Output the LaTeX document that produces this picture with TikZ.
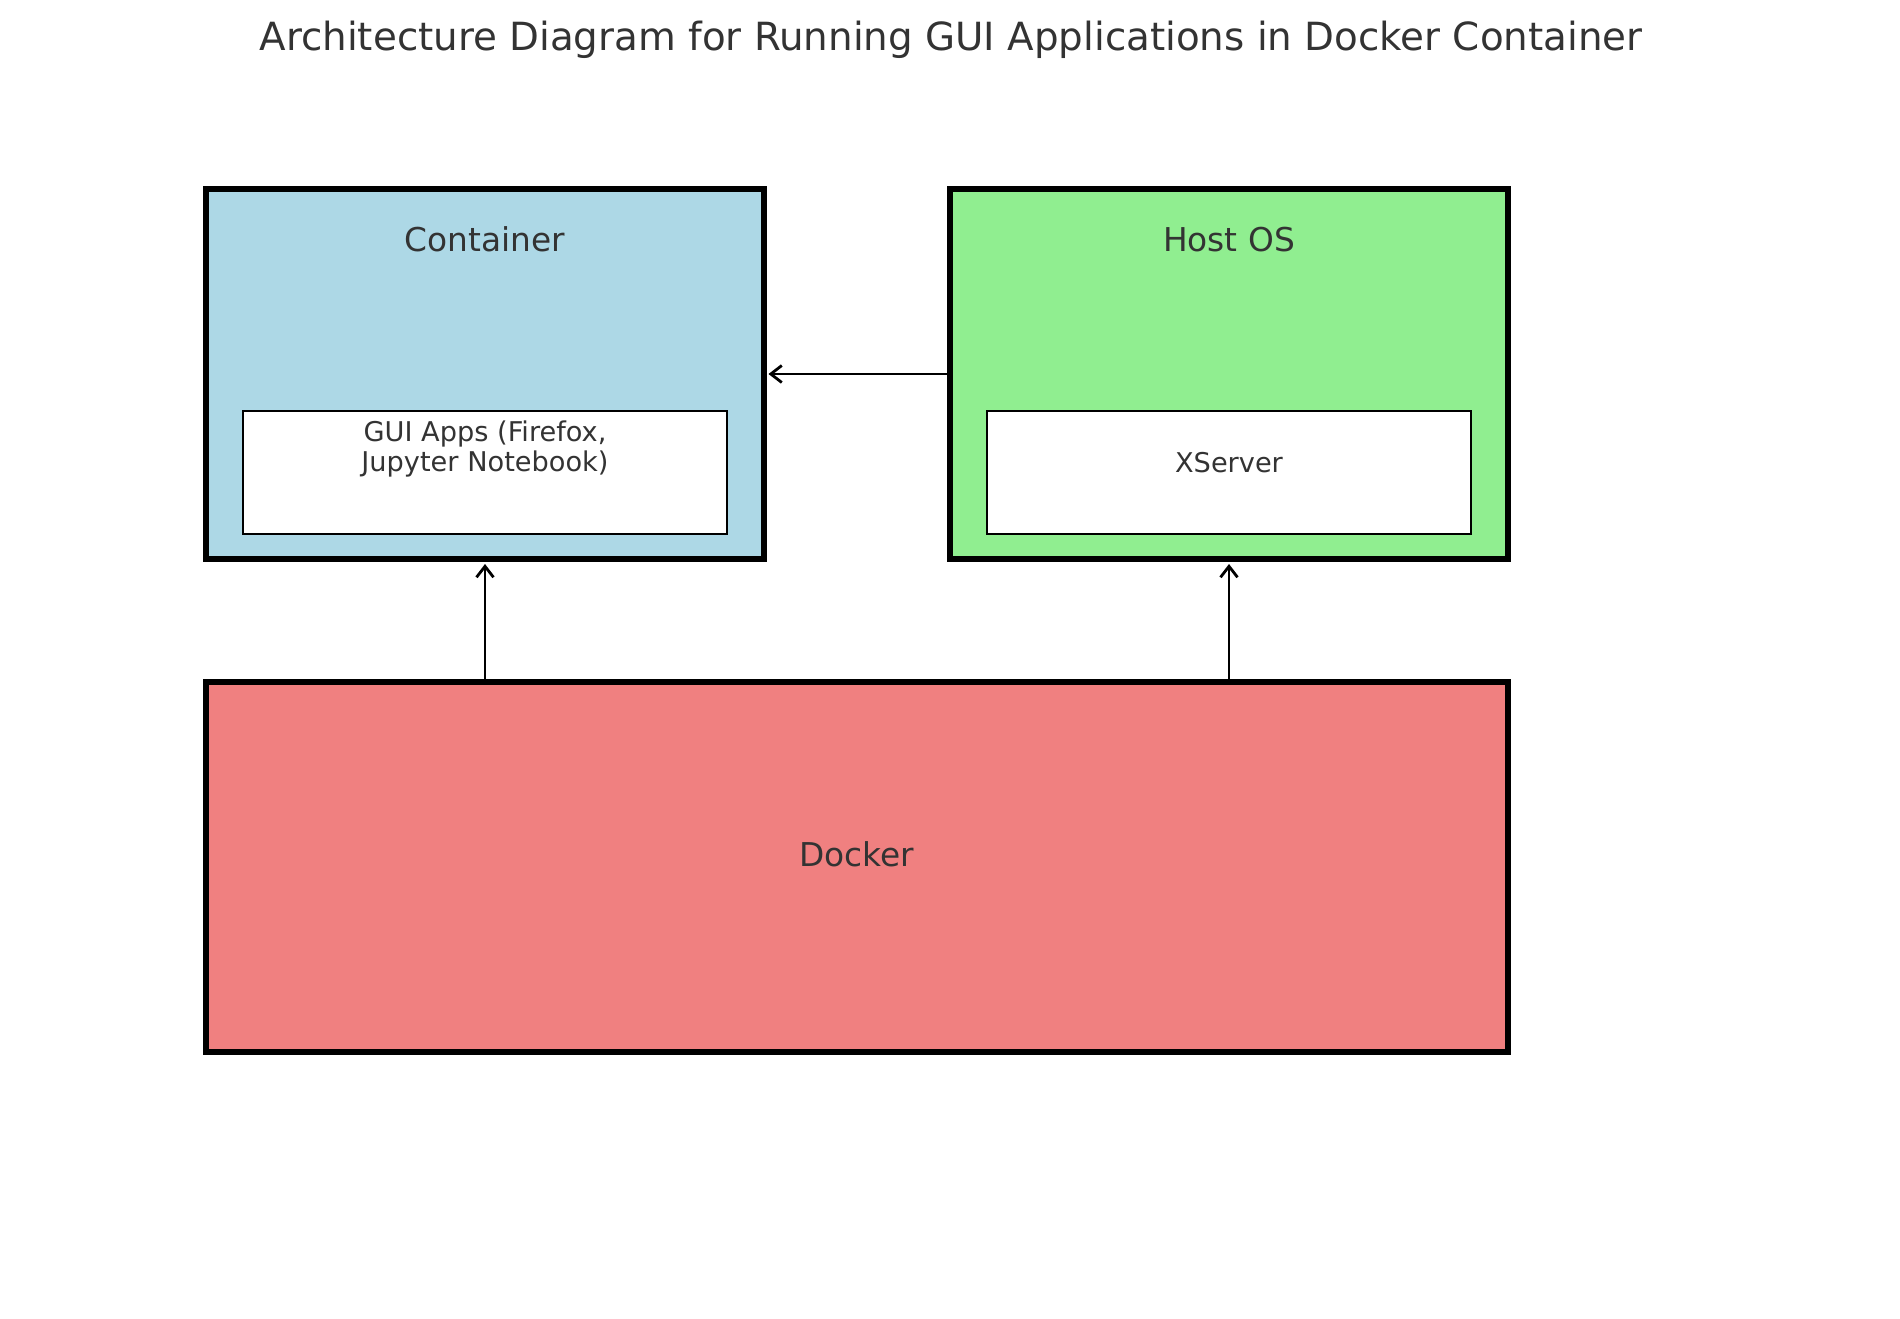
\documentclass[tikz,border=0pt]{standalone}
\usepackage{fontspec}
\setmainfont{DejaVu Sans}
\usetikzlibrary{arrows.meta}
\definecolor{lblue}{HTML}{ADD8E6}
\definecolor{lgreen}{HTML}{90EE90}
\definecolor{lcoral}{HTML}{F08080}
\definecolor{txt}{HTML}{333333}
\tikzset{
  outerbox/.style={draw=black, line width=5.3pt, inner sep=0pt, outer sep=0pt, minimum height=370pt},
  innerbox/.style={draw=black, fill=white, line width=2.4pt, inner sep=0pt, minimum width=484pt, minimum height=123pt},
  boxlabel/.style={text=txt, font=\fontsize{32.8}{39}\selectfont, inner sep=0pt, anchor=base},
  innerlabel/.style={text=txt, font=\fontsize{27.2}{30}\selectfont, inner sep=0pt, anchor=base, align=center},
  arr/.style={-{Straight Barb[length=11pt, width=17pt, line width=2.8pt]}, line width=2.8pt, black}
}
\begin{document}
\begin{tikzpicture}[x=1pt, y=1pt]
\useasboundingbox (0,0) rectangle (1900,-1318);
% title
\node[text=txt, font=\fontsize{38.8}{46}\selectfont, inner sep=0pt, anchor=base] (title) at (951,-50.7) {Architecture Diagram for Running GUI Applications in Docker Container};
% outer boxes
\node[outerbox, fill=lblue, minimum width=558pt] (container) at (485,-374) {};
\node[outerbox, fill=lgreen, minimum width=558pt] (host) at (1229,-374) {};
\node[outerbox, fill=lcoral, minimum width=1302pt] (docker) at (857,-867) {};
% inner boxes
\node[innerbox] (apps) at (485,-472.5) {};
\node[innerbox] (xserver) at (1229,-472.5) {};
% labels
\node[boxlabel] (containerlbl) at (485,-251.7) {Container};
\node[boxlabel] (hostlbl) at (1229,-251.7) {Host OS};
\node[boxlabel] (dockerlbl) at (857,-866.7) {Docker};
\node[innerlabel] (appslbl) at (485,-471.7) {GUI Apps (Firefox,\\Jupyter Notebook)};
\node[innerlabel] (xserverlbl) at (1229,-472.7) {XServer};
% arrows
\draw[arr, shorten <=2pt, shorten >=4.5pt] (host.west) -- (container.east);
\draw[arr, shorten <=2.5pt, shorten >=5pt] (docker.north -| container.south) -- (container.south);
\draw[arr, shorten <=2.5pt, shorten >=5pt] (docker.north -| host.south) -- (host.south);
\end{tikzpicture}
\end{document}
